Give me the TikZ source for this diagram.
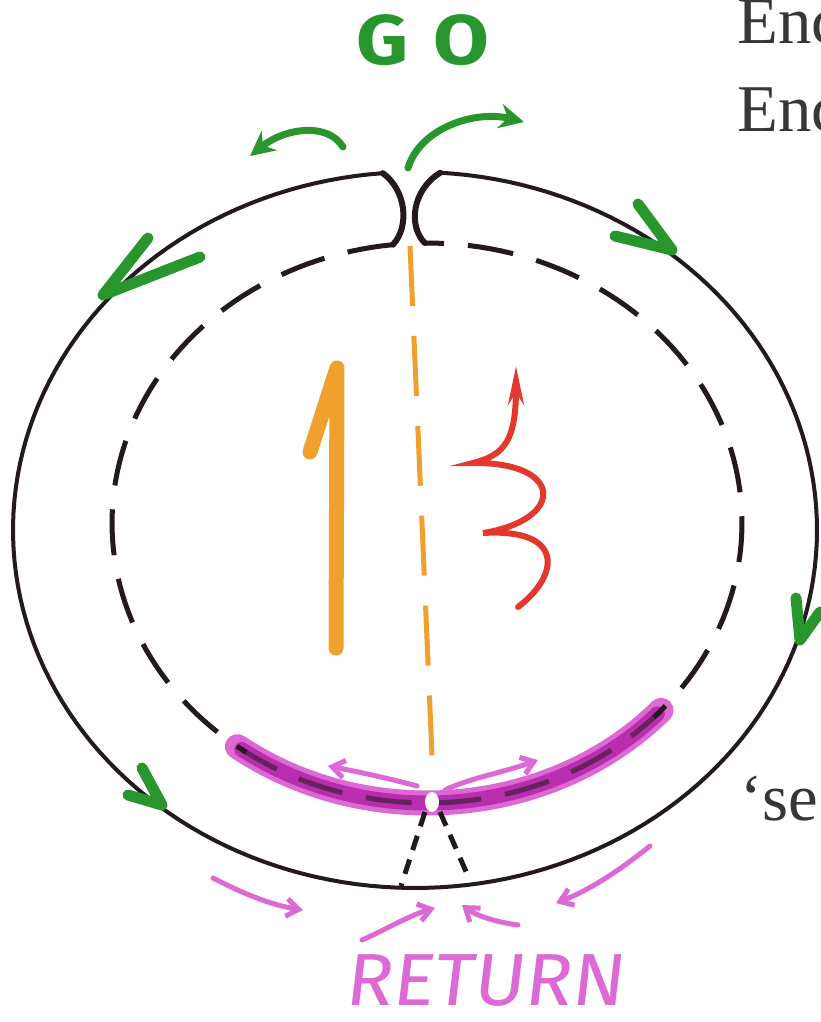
\documentclass[tikz,border=0pt]{standalone}
\usepackage{fontspec}
\setmainfont{Liberation Serif}
\newfontfamily\handfont{Fira Sans}
\usetikzlibrary{arrows.meta}
\definecolor{ink}{RGB}{35,25,30}
\definecolor{leaf}{RGB}{40,150,45}
\definecolor{amber}{RGB}{240,160,45}
\definecolor{chili}{RGB}{228,55,45}
\definecolor{orchid}{RGB}{220,105,212}
\definecolor{plum}{RGB}{185,45,175}
\definecolor{prose}{RGB}{55,55,55}

\begin{document}
\begin{tikzpicture}[x=0.02cm,y=-0.02cm,
  ring/.style={ink,line width=0.08cm},
  wall/.style={ink,line width=0.12cm,line cap=round},
  inner/.style={ink,line width=0.1cm,dash pattern=on 0.92cm off 0.48cm},
  chev/.style={leaf,line width=0.22cm,line cap=round,line join=round},
  grn/.style={leaf,line width=0.14cm,line cap=round,-{Stealth[length=14pt,width=14pt]}},
  pink/.style={orchid,line width=0.1cm,line cap=round,-{Straight Barb[length=7pt,width=10pt]}},
  txt/.style={prose,font=\fontsize{38}{40}\selectfont,anchor=base west,inner sep=0pt}]
  \useasboundingbox (0,0) rectangle (821,1022);
  \clip (0,0) rectangle (821,1022);
  \fill[white] (0,0) rectangle (821,1022);
  \coordinate (gapL) at ({415+402*cos(94.6)},{530-358*sin(94.6)});
  \coordinate (gapR) at ({415+402*cos(86.4)},{530-358*sin(86.4)});
  \coordinate (neckL) at ({427+315*cos(96.2)},{523-280*sin(96.2)});
  \coordinate (neckR) at ({427+315*cos(90.4)},{523-280*sin(90.4)});
  % band under the inner ring
  \draw[orchid,line width=0.5cm,line cap=round] plot[domain=233:318,samples=60,variable=\a] ({427+315*cos(\a)},{523-280*sin(\a)});
  \draw[plum,line width=0.3cm,line cap=round] plot[domain=234:317,samples=60,variable=\a] ({427+315*cos(\a)},{523-280*sin(\a)});
  \draw[ring] plot[domain=94.6:446.4,samples=180,variable=\a] ({415+402*cos(\a)},{530-358*sin(\a)});
  \draw[inner] plot[domain=96.2:450.4,samples=180,variable=\a] ({427+315*cos(\a)},{523-280*sin(\a)});
  \draw[plum,line width=0.16cm,opacity=.45] plot[domain=235:316,samples=60,variable=\a] ({427+315*cos(\a)},{523-280*sin(\a)});
  \draw[wall] (gapL) .. controls (406,190) and (410,226) .. (neckL);
  \draw[wall] (gapR) .. controls (412,190) and (408,226) .. (neckR);
  \fill[white] (432,802) ellipse[x radius=7,y radius=10];
  \draw[ink,line width=0.1cm,dash pattern=on 0.3cm off 0.2cm] (425,812) -- (401,886);
  \draw[ink,line width=0.1cm,dash pattern=on 0.3cm off 0.2cm] (440,812) -- (468,876);
  \draw[amber,line width=0.1cm,dash pattern=on 1.2cm off 0.6cm] (410,246) -- (433,778);
  \draw[amber,line width=0.3cm,line cap=round,line join=round] (310,452) -- (337,368) -- (336,648);
  \draw[chili,line width=0.12cm,line cap=round,-{Stealth[length=22pt,width=9pt]}] (518,607) .. controls (560,575) and (565,528) .. (483,533) .. controls (565,520) and (565,462) .. (473,463) .. controls (505,455) and (516,440) .. (516,366);
  \draw[grn] (343,147) .. controls (328,122) and (285,128) .. (250,156);
  \draw[grn] (408,168) .. controls (420,128) and (475,110) .. (524,122);
  \foreach \ax/\ay/\vx/\vy/\bx/\by in {148/238/103/295/200/257,615/236/672/250/638/204,
      796/598/800/640/820/612,142/768/162/805/128/795}
    \draw[chev] (\ax,\ay) -- (\vx,\vy) -- (\bx,\by);
  \draw[pink] (417,786) .. controls (395,780) and (360,772) .. (328,766);
  \draw[pink] (445,790) .. controls (470,778) and (505,772) .. (538,760);
  \draw[pink] (213,878) .. controls (240,892) and (270,905) .. (303,910);
  \draw[pink] (362,940) .. controls (385,930) and (410,915) .. (435,908);
  \draw[pink] (518,925) .. controls (495,922) and (475,915) .. (462,905);
  \draw[pink] (650,846) .. controls (620,870) and (590,890) .. (556,903);
  \node[leaf,font=\handfont\bfseries\fontsize{40}{40}\selectfont\addfontfeature{LetterSpace=30},xscale=1.15] (go) at (423,40) {GO};
  \node[orchid,font=\handfont\fontsize{42}{42}\selectfont,xslant=0.12,xscale=1.05,anchor=base,inner sep=0pt] (ret) at (484,1005) {RETURN};
  \node[txt] (enc1) at (737,43) {Enc};
  \node[txt] (enc2) at (737,131) {Enc};
  \node[txt] (quote) at (740,820) {‘se};
\end{tikzpicture}
\end{document}
